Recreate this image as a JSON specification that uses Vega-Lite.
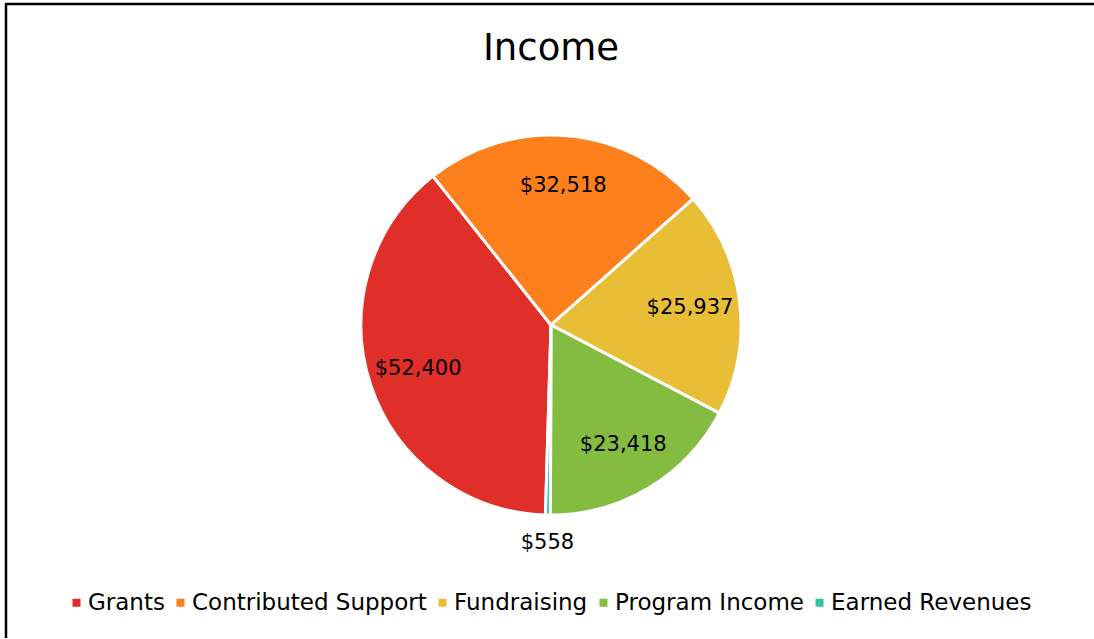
{
  "$schema": "https://vega.github.io/schema/vega-lite/v6.json",
  "width": 1090,
  "height": 642,
  "autosize": {"type": "none"},
  "padding": {"left": 6, "top": 4, "right": -2, "bottom": -8},
  "background": "white",
  "view": {"stroke": "#000000", "strokeWidth": 2.5},
  "config": {
    "view": {"stroke": "#000000", "strokeWidth": 2.5},
    "font": "DejaVu Sans"
  },
  "title": {
    "text": "Income",
    "fontSize": 37,
    "fontWeight": "normal",
    "color": "#000000",
    "baseline": "alphabetic",
    "offset": -58,
    "dy": 35,
    "font": "DejaVu Sans"
  },
  "data": {
    "values": [
      {"i": 1, "source": "Grants", "value": 52400},
      {"i": 2, "source": "Contributed Support", "value": 32518},
      {"i": 3, "source": "Fundraising", "value": 25937},
      {"i": 4, "source": "Program Income", "value": 23418},
      {"i": 5, "source": "Earned Revenues", "value": 558}
    ]
  },
  "encoding": {
    "theta": {"field": "value", "type": "quantitative", "stack": true, "scale": {"range": [3.171, 9.454]}},
    "order": {"field": "i", "type": "quantitative"}
  },
  "layer": [
    {
      "mark": {"type": "arc", "outerRadius": 190, "stroke": "#ffffff", "strokeWidth": 3},
      "encoding": {
        "color": {
          "field": "source",
          "type": "nominal",
          "scale": {
            "domain": ["Grants", "Contributed Support", "Fundraising", "Program Income", "Earned Revenues"],
            "range": ["#E02F28", "#FD801D", "#E8BE36", "#84BC42", "#2FC4A5"]
          },
          "legend": {
            "title": null,
            "orient": "none",
            "direction": "horizontal",
            "columns": 5,
            "legendX": 59,
            "legendY": 587,
            "symbolType": "square",
            "symbolSize": 64,
            "symbolStrokeWidth": 0,
            "labelFontSize": 23,
            "labelFont": "DejaVu Sans",
            "labelColor": "#000000",
            "labelOffset": 0,
            "columnPadding": 4,
            "labelLimit": 400
          }
        }
      }
    },
    {
      "mark": {"type": "text", "radius": 140, "fontSize": 21, "color": "#000000", "font": "DejaVu Sans"},
      "encoding": {
        "text": {"condition": {"test": "datum.value < 1000", "value": ""}, "field": "value", "type": "quantitative", "format": "$,.0f"}
      }
    },
    {
      "mark": {"type": "text", "radius": 218, "fontSize": 21, "color": "#000000", "font": "DejaVu Sans"},
      "encoding": {
        "text": {"condition": {"test": "datum.value >= 1000", "value": ""}, "field": "value", "type": "quantitative", "format": "$,.0f"}
      }
    }
  ]
}
